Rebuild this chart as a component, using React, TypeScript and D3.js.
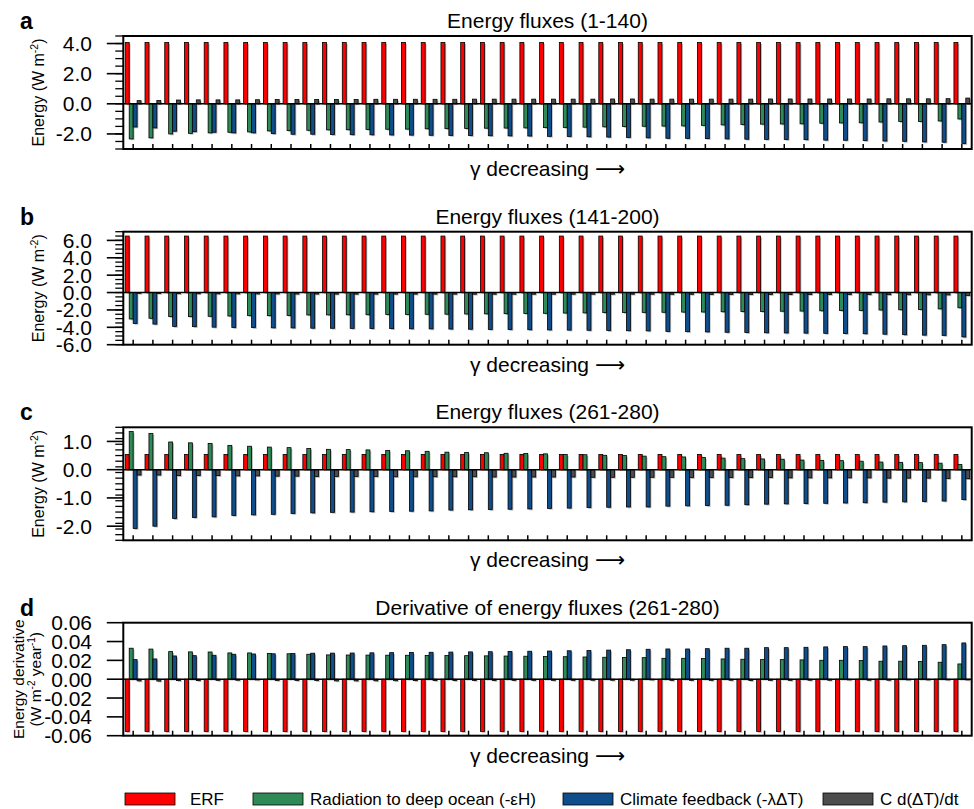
import React from 'react';
import * as d3 from 'd3';

// 43 models, ordered by decreasing gamma
const groupIds = d3.range(1, 44);

const seriesKeys = ['erf', 'ocean', 'feedback', 'storage'];
const seriesColors = ['#ff0000', '#2e8b57', '#104e8b', '#4d4d4d'];
const legendLabels = ['ERF', 'Radiation to deep ocean (-\u03b5H)', 'Climate feedback (-\u03bb\u0394T)', 'C d(\u0394T)/dt'];

// panel a: years 1-140
const erfA = [
  4.07, 4.07, 4.07, 4.07, 4.07, 4.07, 4.07, 4.07, 4.07, 4.07, 4.07,
  4.07, 4.07, 4.07, 4.07, 4.07, 4.07, 4.07, 4.07, 4.07, 4.07, 4.07, 4.07, 4.07, 4.07, 4.07,
  4.07, 4.07, 4.07, 4.07, 4.07, 4.07, 4.07, 4.07, 4.07, 4.07, 4.07, 4.07, 4.07, 4.07, 4.07, 4.07, 4.07,
];
const oceanA = [
  -2.33, -2.26, -2.0, -1.96, -1.93, -1.89, -1.87, -1.8, -1.78, -1.76, -1.73,
  -1.72, -1.7, -1.69, -1.68, -1.66, -1.65, -1.64, -1.62, -1.61, -1.6, -1.58, -1.57, -1.55, -1.53, -1.51,
  -1.49, -1.48, -1.47, -1.43, -1.4, -1.38, -1.35, -1.34, -1.33, -1.29, -1.27, -1.26, -1.21, -1.18, -1.17, -1.14, -1.01,
];
const feedbackA = [
  -1.54, -1.6, -1.82, -1.85, -1.89, -1.93, -1.93, -1.98, -2.02, -2.02, -2.04,
  -2.05, -2.06, -2.07, -2.08, -2.09, -2.1, -2.11, -2.12, -2.13, -2.14, -2.16, -2.17, -2.19, -2.21, -2.23,
  -2.26, -2.29, -2.3, -2.31, -2.33, -2.35, -2.36, -2.37, -2.38, -2.41, -2.42, -2.44, -2.47, -2.49, -2.53, -2.55, -2.64,
];
const storageA = [
  0.21, 0.22, 0.25, 0.26, 0.26, 0.26, 0.27, 0.28, 0.28, 0.29, 0.29,
  0.29, 0.3, 0.3, 0.3, 0.3, 0.3, 0.31, 0.31, 0.31, 0.31, 0.31, 0.31, 0.31, 0.32, 0.32,
  0.31, 0.31, 0.31, 0.31, 0.31, 0.31, 0.32, 0.32, 0.32, 0.32, 0.32, 0.32, 0.33, 0.33, 0.33, 0.34, 0.38,
];

// panel b: years 141-200
const erfB = [
  6.5, 6.5, 6.5, 6.5, 6.5, 6.5, 6.5, 6.5, 6.5, 6.5, 6.5,
  6.5, 6.5, 6.5, 6.5, 6.5, 6.5, 6.5, 6.5, 6.5, 6.5, 6.5, 6.5, 6.5, 6.5, 6.5,
  6.5, 6.5, 6.5, 6.5, 6.5, 6.5, 6.5, 6.5, 6.5, 6.5, 6.5, 6.5, 6.5, 6.5, 6.5, 6.5, 6.5,
];
const oceanB = [
  -3.04, -2.96, -2.77, -2.77, -2.73, -2.7, -2.66, -2.66, -2.64, -2.58, -2.57,
  -2.56, -2.55, -2.53, -2.52, -2.5, -2.49, -2.47, -2.45, -2.43, -2.41, -2.39, -2.36, -2.34, -2.31, -2.29,
  -2.28, -2.27, -2.25, -2.24, -2.21, -2.19, -2.18, -2.15, -2.13, -2.1, -2.07, -2.05, -2.01, -1.98, -1.95, -1.88, -1.75,
];
const feedbackB = [
  -3.55, -3.63, -3.9, -3.92, -3.98, -4.02, -4.03, -4.06, -4.07, -4.1, -4.11,
  -4.12, -4.14, -4.15, -4.17, -4.18, -4.2, -4.22, -4.24, -4.26, -4.28, -4.3, -4.32, -4.34, -4.37, -4.39,
  -4.41, -4.47, -4.5, -4.53, -4.57, -4.6, -4.63, -4.65, -4.67, -4.69, -4.72, -4.74, -4.79, -4.85, -4.9, -4.93, -5.11,
];
const storageB = [
  -0.09, -0.1, -0.13, -0.14, -0.15, -0.15, -0.16, -0.16, -0.17, -0.17, -0.18,
  -0.18, -0.18, -0.18, -0.18, -0.18, -0.18, -0.19, -0.19, -0.19, -0.19, -0.19, -0.19, -0.19, -0.19, -0.19,
  -0.19, -0.2, -0.2, -0.21, -0.21, -0.21, -0.22, -0.22, -0.22, -0.22, -0.23, -0.23, -0.24, -0.25, -0.26, -0.27, -0.33,
];

// panel c: years 261-280
const erfC = [
  0.54, 0.54, 0.54, 0.54, 0.54, 0.54, 0.54, 0.54, 0.54, 0.54, 0.54,
  0.54, 0.54, 0.54, 0.54, 0.54, 0.54, 0.54, 0.54, 0.54, 0.54, 0.54, 0.54, 0.54, 0.54, 0.54,
  0.54, 0.54, 0.54, 0.54, 0.54, 0.54, 0.54, 0.54, 0.54, 0.54, 0.54, 0.54, 0.54, 0.54, 0.54, 0.54, 0.54,
];
const oceanC = [
  1.35, 1.28, 0.98, 0.95, 0.93, 0.86, 0.83, 0.8, 0.78, 0.75, 0.72,
  0.71, 0.7, 0.68, 0.67, 0.65, 0.62, 0.61, 0.6, 0.58, 0.57, 0.56, 0.54, 0.53, 0.51, 0.5,
  0.48, 0.46, 0.45, 0.43, 0.41, 0.39, 0.38, 0.37, 0.34, 0.33, 0.32, 0.3, 0.27, 0.26, 0.25, 0.23, 0.18,
];
const feedbackC = [
  -2.08, -2.0, -1.73, -1.69, -1.67, -1.62, -1.6, -1.58, -1.55, -1.53, -1.51,
  -1.5, -1.49, -1.48, -1.47, -1.46, -1.43, -1.42, -1.41, -1.4, -1.39, -1.37, -1.36, -1.34, -1.33, -1.32,
  -1.32, -1.29, -1.28, -1.27, -1.26, -1.24, -1.22, -1.21, -1.2, -1.19, -1.18, -1.17, -1.15, -1.14, -1.13, -1.11, -1.06,
];
const storageC = [
  -0.19, -0.19, -0.21, -0.21, -0.21, -0.22, -0.22, -0.23, -0.23, -0.24, -0.24,
  -0.24, -0.24, -0.25, -0.25, -0.25, -0.25, -0.25, -0.26, -0.26, -0.26, -0.26, -0.26, -0.27, -0.27, -0.27,
  -0.27, -0.27, -0.28, -0.28, -0.28, -0.28, -0.28, -0.29, -0.29, -0.29, -0.29, -0.29, -0.3, -0.3, -0.3, -0.31, -0.32,
];

// panel d: derivatives, years 261-280
const erfD = [
  -0.0555, -0.0555, -0.0555, -0.0555, -0.0555, -0.0555, -0.0555, -0.0555, -0.0555, -0.0555, -0.0555,
  -0.0555, -0.0555, -0.0555, -0.0555, -0.0555, -0.0555, -0.0555, -0.0555, -0.0555, -0.0555, -0.0555, -0.0555, -0.0555, -0.0555, -0.0555,
  -0.0555, -0.0555, -0.0555, -0.0555, -0.0555, -0.0555, -0.0555, -0.0555, -0.0555, -0.0555, -0.0555, -0.0555, -0.0555, -0.0555, -0.0555, -0.0555, -0.0555,
];
const oceanD = [
  0.0329, 0.032, 0.0293, 0.029, 0.0289, 0.0279, 0.0279, 0.0272, 0.027, 0.0265, 0.0258,
  0.0257, 0.0256, 0.0255, 0.0254, 0.0253, 0.0251, 0.025, 0.0248, 0.0246, 0.0244, 0.0242, 0.0239, 0.0236, 0.0233, 0.0231,
  0.0229, 0.0222, 0.0222, 0.0219, 0.0215, 0.0212, 0.0208, 0.0208, 0.0205, 0.0201, 0.0201, 0.0198, 0.0191, 0.0191, 0.0187, 0.018, 0.0162,
];
const feedbackD = [
  0.0208, 0.0215, 0.0247, 0.025, 0.0254, 0.0265, 0.0268, 0.027, 0.0272, 0.0276, 0.0277,
  0.0278, 0.028, 0.0282, 0.0284, 0.0286, 0.0288, 0.029, 0.0292, 0.0295, 0.0297, 0.0299, 0.0302, 0.0305, 0.0309, 0.0313,
  0.0318, 0.0321, 0.0321, 0.0324, 0.0329, 0.0329, 0.0335, 0.0335, 0.0339, 0.0343, 0.0346, 0.0346, 0.0353, 0.0356, 0.036, 0.0367, 0.0385,
];
const storageD = [
  -0.0018, -0.002, -0.0015, -0.0015, -0.0012, -0.0011, -0.0008, -0.0013, -0.0013, -0.0014, -0.0018,
  -0.0018, -0.0017, -0.0016, -0.0015, -0.0014, -0.0014, -0.0013, -0.0013, -0.0012, -0.0012, -0.0012, -0.0012, -0.0011, -0.0011, -0.0011,
  -0.0008, -0.0012, -0.0012, -0.0012, -0.0011, -0.0014, -0.0012, -0.0012, -0.0011, -0.0011, -0.0008, -0.0011, -0.0011, -0.0008, -0.0008, -0.0008, -0.0008,
];

const panels = [
  { letter: 'a', title: 'Energy fluxes (1-140)', domain: [-3, 4.5], major: [-2, 0, 2, 4], minorStep: 0.5, digits: 1,
    series: [erfA, oceanA, feedbackA, storageA] },
  { letter: 'b', title: 'Energy fluxes (141-200)', domain: [-6, 7], major: [-6, -4, -2, 0, 2, 4, 6], minorStep: 0.5, digits: 1,
    series: [erfB, oceanB, feedbackB, storageB] },
  { letter: 'c', title: 'Energy fluxes (261-280)', domain: [-2.5, 1.5], major: [-2, -1, 0, 1], minorStep: 0.2, digits: 1,
    series: [erfC, oceanC, feedbackC, storageC] },
  { letter: 'd', title: 'Derivative of energy fluxes (261-280)', domain: [-0.06, 0.06], major: [-0.06, -0.04, -0.02, 0, 0.02, 0.04, 0.06], minorStep: 0, digits: 2,
    series: [erfD, oceanD, feedbackD, storageD] },
];

const FONT = '"Liberation Sans", Arial, Helvetica, sans-serif';
const X0 = 123.3;
const X1 = 971.7;
const PH = 113;
const tops = [36, 231.7, 427.3, 622.7];

const x = d3.scaleBand<number>().domain(groupIds).range([X0, X1]).paddingInner(0.2).paddingOuter(0.1);
const xs = d3.scaleBand<string>().domain(seriesKeys).range([0, x.bandwidth()]);

const YLabel = ({ cy, two }: { cy: number; two: boolean }) => {
  if (!two) {
    return (
      <text transform={`translate(43.5,${cy}) rotate(-90)`} textAnchor="middle" fontSize={16} fontFamily={FONT}>
        Energy (W m<tspan dy={-6} fontSize={10.5}>-2</tspan><tspan dy={6}>)</tspan>
      </text>
    );
  }
  return (
    <g fontSize={15.5} fontFamily={FONT}>
      <text transform={`translate(24,${cy}) rotate(-90)`} textAnchor="middle">Energy derivative</text>
      <text transform={`translate(40.5,${cy}) rotate(-90)`} textAnchor="middle">
        (W m<tspan dy={-6} fontSize={10}>-2</tspan><tspan dy={6}> year</tspan><tspan dy={-6} fontSize={10}>-1</tspan><tspan dy={6}>)</tspan>
      </text>
    </g>
  );
};

const Panel = ({ p, top }: { p: typeof panels[number]; top: number }) => {
  const y = d3.scaleLinear().domain(p.domain).range([top + PH, top]);
  const y0 = y(0);
  const minor = p.minorStep ? d3.range(p.domain[0], p.domain[1] + 1e-9, p.minorStep) : [];
  const bw = xs.bandwidth();
  return (
    <g>
      <text x={20} y={top - 7} fontSize={23} fontWeight="bold" fontFamily={FONT}>{p.letter}</text>
      <text x={(X0 + X1) / 2} y={top - 8} fontSize={21} textAnchor="middle" fontFamily={FONT}>{p.title}</text>
      <YLabel cy={top + PH / 2} two={p.letter === 'd'} />
      {groupIds.map((g, i) => (
        <g key={g}>
          {p.series.map((vals, s) => {
            const v = vals[i];
            const bx = (x(g) as number) + (xs(seriesKeys[s]) as number);
            const by = Math.min(y(v), y0);
            const bh = Math.abs(y(v) - y0);
            return (
              <g key={s}>
                <rect x={bx + 1.3} y={by + 1.3} width={bw} height={bh} fill="#b8b8b8" />
                <rect x={bx} y={by} width={bw} height={bh} fill={seriesColors[s]} stroke="#000" strokeWidth={0.8} />
              </g>
            );
          })}
        </g>
      ))}
      <line x1={X0} x2={X1} y1={y0} y2={y0} stroke="#000" strokeWidth={1.6} />
      {groupIds.map((g) => {
        const cx = (x(g) as number) + x.bandwidth() / 2;
        return <line key={g} x1={cx} x2={cx} y1={top + PH} y2={top + PH - 5} stroke="#000" strokeWidth={1.5} />;
      })}
      {minor.map((t, i) => (
        <line key={i} x1={X0 - 8} x2={X0} y1={y(t)} y2={y(t)} stroke="#000" strokeWidth={1.3} />
      ))}
      {p.major.map((t) => (
        <g key={t}>
          <line x1={X0 - 16.5} x2={X0} y1={y(t)} y2={y(t)} stroke="#000" strokeWidth={1.6} />
          <text x={92} y={y(t)} dy="0.36em" textAnchor="end" fontSize={21} fontFamily={FONT}>
            {t.toFixed(p.digits)}
          </text>
        </g>
      ))}
      <rect x={X0} y={top} width={X1 - X0} height={PH} fill="none" stroke="#000" strokeWidth={2} />
      <text x={(X0 + X1) / 2} y={top + PH + 27} fontSize={21} textAnchor="middle" fontFamily={FONT}>
        {'\u03b3 decreasing '}
        <tspan fontFamily="DejaVu Sans">{'\u27f6'}</tspan>
      </text>
    </g>
  );
};

const legendX = [125, 253, 563, 823];

export default function App() {
  return (
    <div style={{ width: 974, height: 809 }}>
      <style>{'body{margin:0;background:#fff}'}</style>
      <svg width={974} height={809} style={{ display: 'block', background: '#fff' }}>
        {panels.map((p, i) => (
          <Panel key={p.letter} p={p} top={tops[i]} />
        ))}
        {legendLabels.map((lab, i) => (
          <g key={lab}>
            <rect x={legendX[i]} y={793} width={50} height={12} fill={seriesColors[i]} stroke="#000" strokeWidth={0.8} />
            <text x={legendX[i] + (i === 0 ? 65 : 57)} y={805} fontSize={17} fontFamily={FONT}>
              {lab}
            </text>
          </g>
        ))}
      </svg>
    </div>
  );
}
